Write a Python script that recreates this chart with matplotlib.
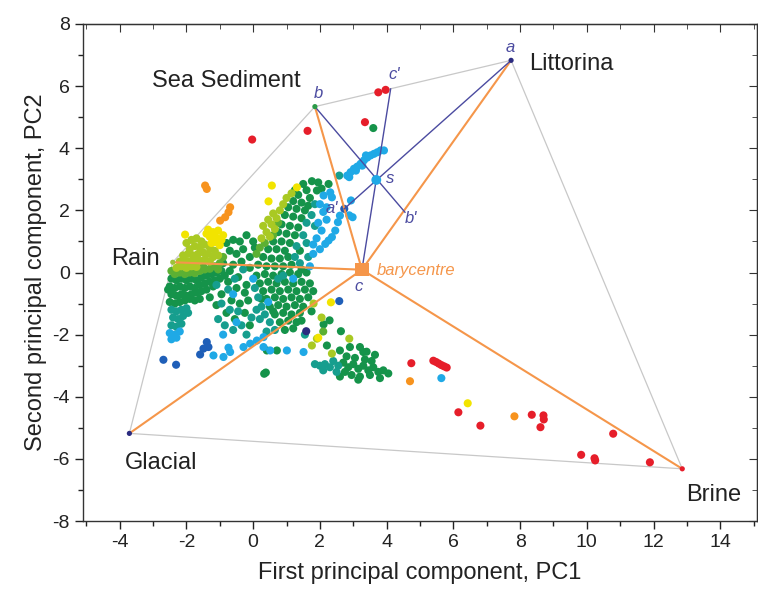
import matplotlib
matplotlib.use("Agg")
import matplotlib.pyplot as plt
from matplotlib.ticker import MultipleLocator

plt.rcParams['font.family'] = ['Liberation Sans', 'DejaVu Sans']
plt.rcParams['axes.unicode_minus'] = False

# ---------------- data (PC1, PC2) ----------------
red_pts = [(-0.03, 4.28), (1.63, 4.56), (3.35, 4.84), (3.75, 5.80), (3.97, 5.88),
           (4.74, -2.92), (5.40, -2.84), (5.48, -2.88), (5.56, -2.93), (5.64, -2.98),
           (5.72, -3.02), (5.80, -3.06), (6.15, -4.50), (6.81, -4.93), (8.35, -4.58),
           (8.70, -4.60), (8.71, -4.73), (8.61, -4.98), (10.79, -5.19), (9.83, -5.87),
           (10.23, -5.98), (10.25, -6.05), (11.89, -6.11)]
orange_pts = [(-1.44, 2.80), (-1.39, 2.69), (-0.69, 2.10), (-0.74, 1.94), (-0.84, 1.78),
              (-0.99, 1.67), (4.70, -3.50), (7.83, -4.63)]
yellow_pts = [(-1.35, 1.38), (-1.20, 1.30), (-1.05, 1.35), (-1.30, 1.15), (-1.10, 1.12),
              (-0.95, 1.05), (-1.25, 0.95), (-1.00, 0.88), (-1.40, 1.25), (-0.90, 1.20),
              (-1.15, 0.98), (-2.04, 1.22), (0.56, 2.80), (0.46, 2.29), (1.31, 2.74),
              (2.33, -0.96), (6.43, -4.21), (1.95, -2.10)]
ygreen_pts = [(-2.00, 0.95), (-1.85, 1.05), (-1.70, 1.10), (-1.55, 1.00), (-1.90, 0.75),
              (-1.75, 0.85), (-1.60, 0.80), (-1.45, 0.90), (-1.30, 0.80), (-1.15, 0.70),
              (-2.10, 0.55), (-1.95, 0.60), (-1.80, 0.55), (-1.65, 0.60), (-1.50, 0.65),
              (-1.35, 0.60), (-1.20, 0.50), (-1.05, 0.55), (-2.20, 0.35), (-2.05, 0.40),
              (-1.90, 0.35), (-1.75, 0.40), (-1.60, 0.38), (-1.45, 0.42), (-1.30, 0.35),
              (-2.30, 0.15), (-2.15, 0.20), (-2.00, 0.15), (-1.85, 0.20), (-1.70, 0.18),
              (0.30, 1.50), (0.45, 1.70), (0.60, 1.90), (0.40, 1.30), (0.55, 1.55),
              (0.70, 1.75), (0.80, 2.00), (0.90, 2.20), (0.25, 1.10), (0.50, 1.15),
              (0.65, 1.40), (1.00, 2.40), (1.15, 2.55), (1.81, -1.00), (1.91, -2.13),
              (1.76, -2.35), (2.88, -2.13), (2.36, -2.61), (2.05, -1.45)]
lgreen_pts = [(-2.35, -0.05), (-2.20, 0.00), (-2.05, -0.05), (-1.90, 0.00), (-1.75, -0.02),
              (-1.60, 0.05), (-1.45, 0.10), (-1.30, 0.12), (-1.15, 0.20), (-1.00, 0.30),
              (-0.90, 0.50), (-1.50, 0.20), (0.20, 0.80), (0.35, 0.95), (0.10, 0.60),
              (0.75, 1.60), (0.60, 1.20), (-2.45, 0.05), (-1.05, 0.10), (2.10, -1.90)]
green_pts = [(-2.45, -0.20), (-2.30, -0.25), (-2.15, -0.20), (-2.00, -0.25), (-1.85, -0.20),
             (-1.70, -0.25), (-1.55, -0.15), (-1.40, -0.10), (-1.25, -0.05), (-1.10, 0.00),
             (-0.95, 0.05), (-2.50, -0.45), (-2.35, -0.50), (-2.20, -0.45), (-2.05, -0.50),
             (-1.90, -0.45), (-1.75, -0.50), (-1.60, -0.40), (-1.45, -0.35), (-1.30, -0.30),
             (-1.15, -0.25), (-2.45, -0.70), (-2.30, -0.75), (-2.15, -0.70), (-2.00, -0.75),
             (-1.85, -0.70), (-1.70, -0.65), (-1.55, -0.60), (-1.40, -0.55), (-2.50, -0.95),
             (-2.35, -1.00), (-2.20, -0.95), (-2.05, -0.90), (-1.90, -0.85), (-1.75, -0.90),
             (-2.55, -0.55), (-1.00, -0.20), (-0.85, -0.10), (-1.20, -0.45), (-1.60, -0.85),
             (-0.80, 0.95), (-0.60, 1.05), (-0.40, 1.00), (-0.70, 0.70), (-0.50, 0.60),
             (-0.30, 0.75), (-0.90, 0.30), (-0.60, 0.25), (-0.35, 0.35), (-0.75, -0.30),
             (-0.50, -0.50), (-0.20, -0.40), (-0.95, -0.70), (-0.65, -0.90), (-0.40, -1.00),
             (-0.15, -0.90), (-0.80, -1.30), (-0.55, -1.50), (-0.25, -1.30), (-0.10, -1.70),
             (0.33, -3.26), (0.38, -3.22), (-0.70, 0.05), (-0.45, -0.15), (-0.10, 0.15),
             (-0.25, -0.65), (-1.30, -0.80), (-1.10, -1.05), (-0.20, 1.20), (0.00, 1.00),
             (1.76, 2.94), (2.26, 2.85), (1.91, 2.64), (1.50, 2.85), (1.60, 2.65),
             (1.35, 2.50), (1.20, 2.30), (1.45, 2.25), (1.70, 2.40), (1.05, 2.10),
             (1.30, 2.05), (1.55, 2.00), (0.95, 1.85), (1.20, 1.80), (1.45, 1.75),
             (0.85, 1.55), (1.10, 1.50), (1.35, 1.45), (0.75, 1.30), (1.00, 1.25),
             (1.25, 1.20), (0.60, 1.00), (0.85, 1.00), (1.10, 0.95), (0.45, 0.75),
             (0.70, 0.75), (0.95, 0.70), (0.30, 0.50), (0.55, 0.45), (0.80, 0.45),
             (1.05, 0.50), (0.15, 0.25), (0.40, 0.20), (0.65, 0.20), (0.90, 0.20),
             (1.15, 0.25), (-0.10, 0.50), (0.05, 0.80), (1.95, 2.90), (2.05, 2.70),
             (1.25, 2.65), (1.65, 2.15), (1.40, 0.70), (1.45, 0.10),
             (0.10, -0.10), (0.35, -0.05), (0.60, -0.10), (0.85, -0.05), (1.10, 0.00),
             (1.35, -0.05), (1.60, 0.00), (0.20, -0.35), (0.45, -0.30), (0.70, -0.35),
             (0.95, -0.30), (1.20, -0.35), (1.45, -0.30), (1.70, -0.35), (0.30, -0.60),
             (0.55, -0.55), (0.80, -0.60), (1.05, -0.55), (1.30, -0.60), (1.55, -0.55),
             (0.40, -0.85), (0.65, -0.80), (0.90, -0.85), (1.15, -0.80), (1.40, -0.85),
             (1.65, -0.80), (0.50, -1.10), (0.75, -1.05), (1.00, -1.10), (1.25, -1.05),
             (1.50, -1.10), (0.65, -1.35), (0.90, -1.30), (1.15, -1.35), (1.40, -1.30),
             (0.80, -1.60), (1.05, -1.55), (1.30, -1.60), (0.95, -1.85), (1.20, -1.80),
             (1.80, -0.60), (1.75, -1.25), (1.45, -1.55), (0.25, -0.85), (0.60, -1.25),
             (2.29, -1.54), (2.11, -1.67), (2.63, -1.89), (2.21, -2.35), (2.60, -2.51),
             (2.90, -2.40), (3.20, -2.40), (3.30, -2.56), (3.60, 4.65),
             (2.70, -2.90), (2.85, -3.05), (3.00, -2.95), (3.15, -3.10), (3.30, -3.00),
             (3.45, -3.15), (3.60, -3.05), (3.75, -3.20), (3.90, -3.15), (4.05, -3.25),
             (2.75, -3.20), (2.95, -3.30), (3.20, -3.35), (3.50, -3.30), (3.80, -3.40),
             (2.80, -2.70), (3.05, -2.75), (3.35, -2.80), (3.55, -2.85), (3.15, -3.45),
             (2.60, -3.35), (3.65, -2.65), (3.40, -2.55), (0.41, -2.51), (0.71, -2.51)]
teal_pts = [(-2.45, -1.20), (-2.30, -1.25), (-2.15, -1.20), (-2.00, -1.15), (-2.40, -1.45),
            (-2.25, -1.50), (-2.10, -1.40), (-2.45, -1.70), (-2.30, -1.75), (-2.15, -1.65),
            (-1.95, -1.30), (-0.95, -1.00), (-0.70, -1.20), (-0.45, -1.25), (-1.05, -1.50),
            (-0.85, -1.70), (-0.60, -1.85), (-0.35, -1.70), (-0.20, -2.00), (-1.10, -0.40),
            (-0.55, -0.20), (-0.30, 0.10), (1.85, 2.20), (1.60, 1.60), (1.50, 1.20),
            (1.30, 0.85), (1.25, 0.50), (1.40, 0.30), (1.75, 1.85), (1.60, 0.95),
            (1.65, 0.50), (1.85, 1.50), (0.05, -0.50), (0.15, -0.80), (0.25, -1.10),
            (0.35, -1.35), (0.50, -1.60), (0.65, -1.85), (0.20, -1.50), (0.40, -1.90),
            (0.10, -1.20), (0.75, -0.20), (1.85, -2.95), (2.00, -3.00), (2.15, -2.95),
            (2.30, -3.05), (2.10, -3.15), (2.40, -2.85), (2.55, -3.00), (2.50, -3.20),
            (2.58, 3.12), (1.55, -2.00), (-0.75, -0.55), (-0.05, -1.45), (0.90, -0.10)]
cyan_pts = [(-2.50, -1.95), (-2.35, -2.00), (-2.20, -1.90), (-2.45, -2.15), (-2.30, -2.10),
            (-0.74, -2.42), (-0.69, -2.56), (-0.89, -2.72), (-1.19, -2.67), (-0.29, -2.40),
            (-0.09, -2.29), (0.11, -2.19), (0.31, -2.08), (-0.50, -1.60), (-0.90, -2.00),
            (0.31, -2.40), (0.51, -2.51), (1.01, -2.51), (1.51, -2.56), (0.45, -0.95),
            (2.31, 2.58), (2.36, 2.42), (2.11, 2.48), (2.00, 2.20), (2.10, 1.95),
            (2.20, 1.70), (1.95, 1.60), (2.05, 1.35), (1.90, 1.10), (2.60, 1.83),
            (2.54, 1.62), (2.46, 1.35), (2.36, 1.14), (2.26, 1.03), (2.16, 0.92),
            (2.00, 0.75), (1.80, 0.60), (1.70, 0.20), (2.93, 2.32), (2.88, 1.84),
            (2.98, 1.78), (2.20, 2.10), (1.80, 0.90),
            (2.82, 3.12), (2.92, 3.23), (3.02, 3.34), (3.12, 3.41), (3.22, 3.50),
            (3.32, 3.61), (3.42, 3.70), (3.52, 3.77), (3.62, 3.82), (3.72, 3.87),
            (3.82, 3.93), (3.92, 3.93), (2.88, 3.07), (3.08, 3.28), (3.27, 3.44),
            (3.38, 3.77), (5.64, -3.40), (1.20, -0.20), (0.00, -0.20), (-0.60, -0.70)]
blue_pts = [(-2.69, -2.81), (-2.31, -2.97), (-1.39, -2.24), (-1.34, -2.40), (-1.49, -2.45),
            (-1.59, -2.64), (2.58, -0.92), (2.73, 2.05)]
navy_pts = [(1.59, -1.89)]

# end-members
em_names = ["Littorina", "Sea Sediment", "Rain", "Glacial", "Brine"]
em_x = [7.73, 1.85, -2.41, -3.71, 12.86]
em_y = [6.83, 5.34, 0.33, -5.18, -6.32]
em_colors = ['#2b2b80', '#2a9a48', '#9dc23a', '#2b2b80', '#e61e2a']
hull_order = [3, 2, 1, 0, 4, 3]

bary = (3.26, 0.09)
s_pt = (3.69, 2.98)
a_prime = (2.73, 2.05)
b_prime = (4.55, 1.94)
c_prime = (4.12, 5.91)

fig = plt.figure(figsize=(7.58, 5.99), dpi=100)
ax = fig.add_axes([83 / 758, 1 - 521 / 599, 674 / 758, 497 / 599])

# hull
ax.plot([em_x[i] for i in hull_order], [em_y[i] for i in hull_order],
        color='#c8c8c8', lw=0.9, zorder=1)

groups = [(green_pts, '#15934a'), (teal_pts, '#169e8e'), (lgreen_pts, '#5cb033'),
          (ygreen_pts, '#a9c923'), (cyan_pts, '#1fa9e6'), (yellow_pts, '#f2e400'),
          (orange_pts, '#f7931e'), (red_pts, '#e61e2a'), (blue_pts, '#1f5fb8'),
          (navy_pts, '#2b2b80')]
for pts, col in groups:
    ax.scatter([p[0] for p in pts], [p[1] for p in pts], s=34, color=col,
               edgecolors='none', zorder=3)

# orange lines from barycentre
for x, y in zip(em_x, em_y):
    ax.plot([bary[0], x], [bary[1], y], color='#f5964a', lw=1.5, zorder=4)

# blue lines through s
blue = '#4b4ba0'
ax.plot([em_x[0], a_prime[0]], [em_y[0], a_prime[1]], color=blue, lw=1.0, zorder=5)
ax.plot([em_x[1], b_prime[0]], [em_y[1], b_prime[1]], color=blue, lw=1.0, zorder=5)
ax.plot([bary[0], c_prime[0]], [bary[1], c_prime[1]], color=blue, lw=1.0, zorder=5)

ax.scatter(em_x, em_y, s=14, c=em_colors, edgecolors='none', zorder=6)
ax.scatter([s_pt[0]], [s_pt[1]], s=50, color='#1fa9e6', edgecolors='none', zorder=6)
ax.scatter([bary[0]], [bary[1]], s=90, marker='s', color='#f5964a',
           edgecolors='none', zorder=6)

# labels
lab_fs = 17
ax.text(8.26, 6.70, "Littorina", fontsize=lab_fs, ha='left', va='center', color='#222222')
ax.text(-0.79, 6.18, "Sea Sediment", fontsize=lab_fs, ha='center', va='center', color='#222222')
ax.text(-2.80, 0.45, "Rain", fontsize=lab_fs, ha='right', va='center', color='#222222')
ax.text(-3.85, -6.12, "Glacial", fontsize=lab_fs, ha='left', va='center', color='#222222')
ax.text(12.98, -7.15, "Brine", fontsize=lab_fs, ha='left', va='center', color='#222222')

lf = dict(fontsize=12, style='italic', color='#4b4ba0', ha='center', va='center')
ax.text(7.70, 7.24, "a", **lf)
ax.text(1.95, 5.76, "b", **lf)
ax.text(4.22, 6.37, "c'", **lf)
ax.text(4.10, 3.03, "s", **lf)
ax.text(4.73, 1.74, "b'", **lf)
ax.text(2.37, 2.06, "a'", **lf)
ax.text(3.15, -0.45, "c", **lf)
ax.text(3.71, 0.06, "barycentre", fontsize=12, style='italic', color='#f5964a',
        ha='left', va='center')

ax.set_xlim(-5.1, 15.1)
ax.set_ylim(-8, 8)
ax.xaxis.set_major_locator(MultipleLocator(2))
ax.xaxis.set_minor_locator(MultipleLocator(1))
ax.yaxis.set_major_locator(MultipleLocator(2))
ax.yaxis.set_minor_locator(MultipleLocator(1))
ax.tick_params(axis='both', which='both', labelsize=14, colors='#222222', width=1)
ax.tick_params(which='major', length=6)
ax.tick_params(which='minor', length=3.5)
ax.tick_params(top=False, right=False, bottom=True, left=True)
for sp in ax.spines.values():
    sp.set_color('#333333')
    sp.set_linewidth(1)

ax2x = ax.secondary_xaxis('top')
ax2x.xaxis.set_major_locator(MultipleLocator(2))
ax2x.xaxis.set_minor_locator(MultipleLocator(1))
ax2x.tick_params(which='both', direction='in', labeltop=False, colors='#333333')
ax2x.tick_params(which='major', length=6)
ax2x.tick_params(which='minor', length=3.5)
ax2y = ax.secondary_yaxis('right')
ax2y.yaxis.set_major_locator(MultipleLocator(2))
ax2y.yaxis.set_minor_locator(MultipleLocator(1))
ax2y.tick_params(which='both', direction='in', labelright=False, colors='#333333')
ax2y.tick_params(which='major', length=6)
ax2y.tick_params(which='minor', length=3.5)

ax.set_xticks(range(-4, 15, 2))
ax.set_xticklabels([str(v) for v in range(-4, 15, 2)])
ax.set_xlabel("First principal component, PC1", fontsize=17, color='#222222', labelpad=8)
ax.set_ylabel("Second principal component, PC2", fontsize=17, color='#222222', labelpad=4)

fig.savefig("out.png", dpi=100)
